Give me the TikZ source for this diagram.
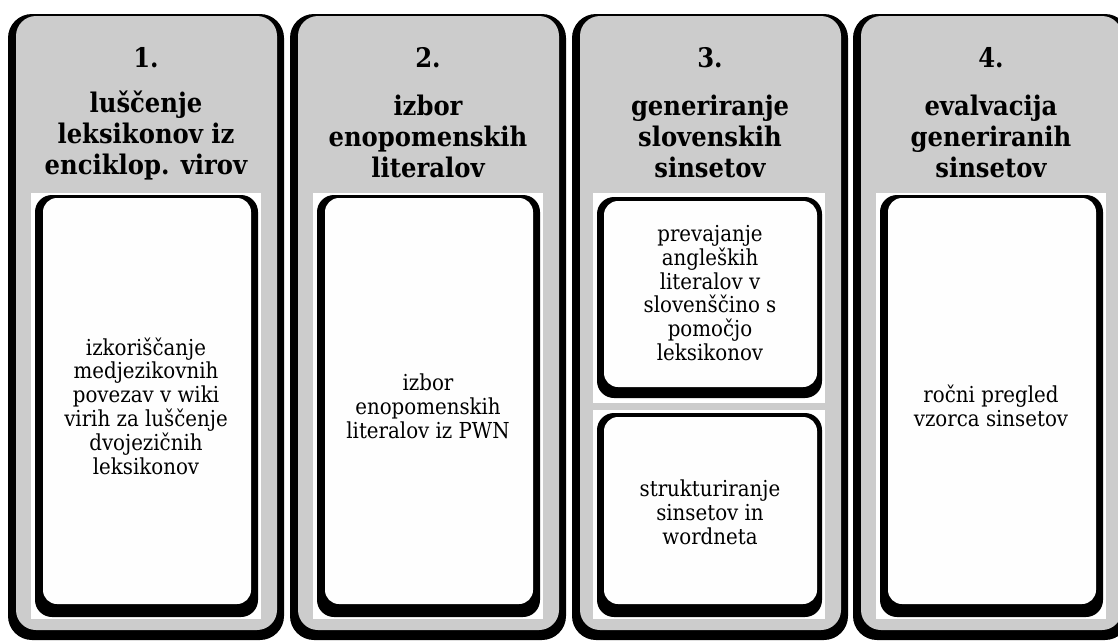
\documentclass[tikz,border=0pt]{standalone}
\usepackage{fontspec}
\setmainfont{DejaVu Serif Condensed}
\definecolor{panelgray}{RGB}{204,204,204}
\definecolor{cardwhite}{RGB}{254,254,254}
\begin{document}
\begin{tikzpicture}[x=1pt,y=-1pt,
  colshadow/.style={fill=black, rounded corners=24pt},
  colface/.style={fill=panelgray, rounded corners=20pt},
  slot/.style={fill=white},
  cardshadow/.style={fill=black, rounded corners=17pt},
  cardface/.style={fill=cardwhite, rounded corners=14pt},
  stepnum/.style={font=\bfseries\fontsize{27}{31}\selectfont, align=center, inner sep=0pt},
  steptitle/.style={font=\bfseries\fontsize{27}{31}\selectfont, align=center, inner sep=0pt},
  cardtext/.style={font=\fontsize{22}{23.8}\selectfont, align=center, inner sep=0pt}]
\useasboundingbox (0,0) rectangle (1118,640);
\clip (0,0) rectangle (1118,640);

% four step columns
\foreach \L in {8,290,572,853}{
  \fill[colshadow] (\L,14) rectangle (\L+276,640);
  \fill[colface] (\L+8,16) rectangle (\L+269,630);
}

% white slots and cards, columns 1, 2 and 4
\foreach \L in {8,290,853}{
  \fill[slot] (\L+23,193) rectangle (\L+253,619);
  \fill[cardshadow] (\L+27,195) rectangle (\L+250,617);
  \fill[cardface] (\L+35,198) rectangle (\L+243,604);
}

% column 3 holds two stacked cards
\fill[slot] (593,193) rectangle (825,403);
\fill[cardshadow] (597,197) rectangle (822,398);
\fill[cardface] (604,201) rectangle (817,387);
\fill[slot] (593,410) rectangle (825,619);
\fill[cardshadow] (597,413) rectangle (822,617);
\fill[cardface] (604,417) rectangle (817,604);

% headings
\node[stepnum] (n1) at (146,58) {1.};
\node[steptitle] (t1) at (146,136) {luščenje\\leksikonov iz\\enciklop. virov};
\node[stepnum] (n2) at (428,58) {2.};
\node[steptitle] (t2) at (428,136) {izbor\\enopomenskih\\literalov};
\node[stepnum] (n3) at (710,58) {3.};
\node[steptitle] (t3) at (710,136) {generiranje\\slovenskih\\sinsetov};
\node[stepnum] (n4) at (991,58) {4.};
\node[steptitle] (t4) at (991,136) {evalvacija\\generiranih\\sinsetov};

% card texts
\node[cardtext] (c1) at (146,406) {izkoriščanje\\medjezikovnih\\povezav v wiki\\virih za luščenje\\dvojezičnih\\leksikonov};
\node[cardtext] (c2) at (428,406) {izbor\\enopomenskih\\literalov iz PWN};
\node[cardtext] (c3a) at (710,293) {prevajanje\\angleških\\literalov v\\slovenščino s\\pomočjo\\leksikonov};
\node[cardtext] (c3b) at (710,512) {strukturiranje\\sinsetov in\\wordneta};
\node[cardtext] (c4) at (991,406) {ročni pregled\\vzorca sinsetov};
\end{tikzpicture}
\end{document}
